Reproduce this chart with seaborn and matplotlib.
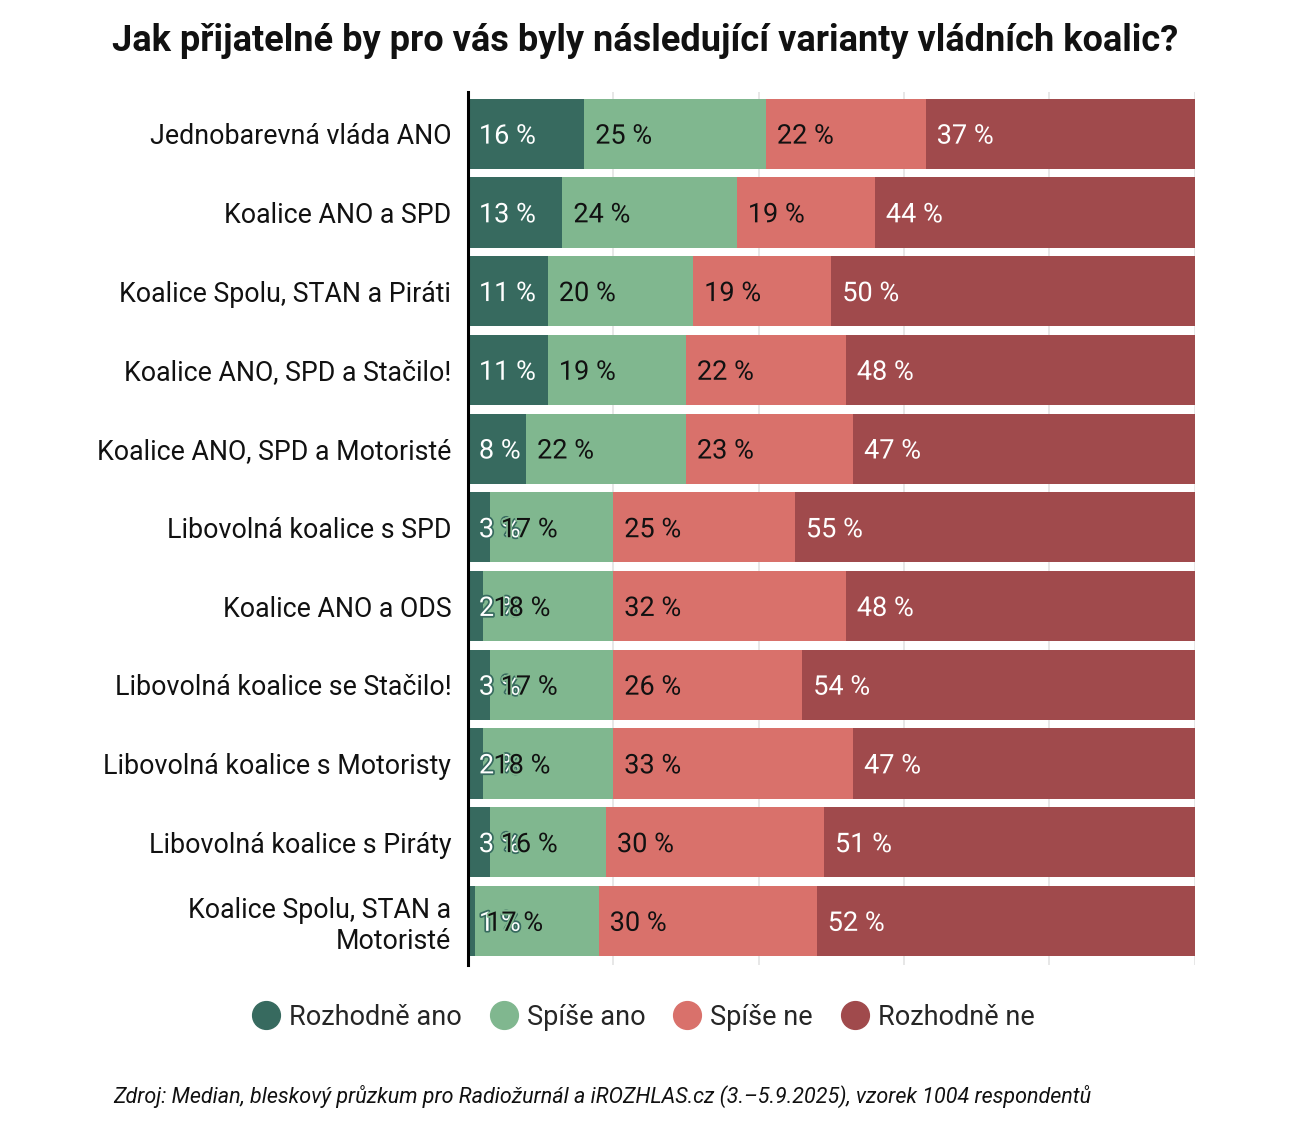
import numpy as np
import pandas as pd
import matplotlib
matplotlib.use("Agg")
import matplotlib.pyplot as plt
import matplotlib.patheffects as pe
from matplotlib.lines import Line2D
import seaborn as sns

categories = [
    "Jednobarevná vláda ANO",
    "Koalice ANO a SPD",
    "Koalice Spolu, STAN a Piráti",
    "Koalice ANO, SPD a Stačilo!",
    "Koalice ANO, SPD a Motoristé",
    "Libovolná koalice s SPD",
    "Koalice ANO a ODS",
    "Libovolná koalice se Stačilo!",
    "Libovolná koalice s Motoristy",
    "Libovolná koalice s Piráty",
    "Koalice Spolu, STAN a\nMotoristé",
]
series_names = ["Rozhodně ano", "Spíše ano", "Spíše ne", "Rozhodně ne"]
rozhodne_ano = [16, 13, 11, 11, 8, 3, 2, 3, 2, 3, 1]
spise_ano = [25, 24, 20, 19, 22, 17, 18, 17, 18, 16, 17]
spise_ne = [22, 19, 19, 22, 23, 25, 32, 26, 33, 30, 30]
rozhodne_ne = [37, 44, 50, 48, 47, 55, 48, 54, 47, 51, 52]

colors = ["#376a5f", "#80b78f", "#d9716b", "#a04a4c"]
text_colors = ["white", "#111111", "#111111", "white"]

sns.set_theme(style="white")
plt.rcParams["font.family"] = ["Roboto", "DejaVu Sans"]

fig = plt.figure(figsize=(13, 11.32), dpi=100)
ax = fig.add_axes([0.36, 0.1475, 0.919 - 0.36, 0.9187 - 0.1475])

vals = np.array([rozhodne_ano, spise_ano, spise_ne, rozhodne_ne], dtype=float)
cum = np.cumsum(vals, axis=0)
starts = cum - vals

# gridlines
for g in [20, 40, 60, 80, 100]:
    ax.axvline(g, color="#e3e3e3", lw=1.2, zorder=0)

for i in range(3, -1, -1):
    df = pd.DataFrame({"cat": categories, "val": cum[i]})
    sns.barplot(data=df, x="val", y="cat", orient="h", color=colors[i],
                width=0.89, saturation=1, ax=ax, zorder=2, linewidth=0)

# labels
for i in range(4):
    for j in range(len(categories)):
        ax.text(starts[i, j] + 1.5, j + 0.03, f"{int(vals[i, j])} %", va="center", ha="left",
                fontsize=19.5, color=text_colors[i], zorder=5,
                path_effects=[pe.withStroke(linewidth=2.5, foreground=colors[i])])

ax.set_xlim(0, 100)
ax.set_ylim(10.56, -0.53)
ax.set_xlabel("")
ax.set_ylabel("")
ax.set_xticks([])
for s in ["top", "right", "bottom"]:
    ax.spines[s].set_visible(False)
ax.spines["left"].set_color("black")
ax.spines["left"].set_linewidth(2.2)
ax.spines["left"].set_zorder(6)
ax.tick_params(axis="y", length=0, pad=12, labelsize=19.3)
for lbl in ax.get_yticklabels():
    lbl.set_horizontalalignment("right")
    lbl.set_multialignment("right")
    lbl.set_color("#111111")

fig.text(0.496, 0.964, "Jak přijatelné by pro vás byly následující varianty vládních koalic?",
         ha="center", va="center", fontsize=26, fontweight="bold", color="#111111")

handles = [Line2D([0], [0], marker="o", linestyle="", markersize=20,
                  markerfacecolor=c, markeredgecolor=c) for c in colors]
fig.legend(handles, series_names, loc="center", bbox_to_anchor=(0.494, 0.1015), ncol=4,
           frameon=False, fontsize=19.5, handletextpad=0.25, columnspacing=0.95,
           handlelength=1.2)

fig.text(0.087, 0.031, "Zdroj: Median, bleskový průzkum pro Radiožurnál a iROZHLAS.cz (3.–5.9.2025), vzorek 1004 respondentů",
         ha="left", va="center", fontsize=15.5, style="italic", color="#111111")

fig.savefig("out.png", dpi=100, facecolor="white")
